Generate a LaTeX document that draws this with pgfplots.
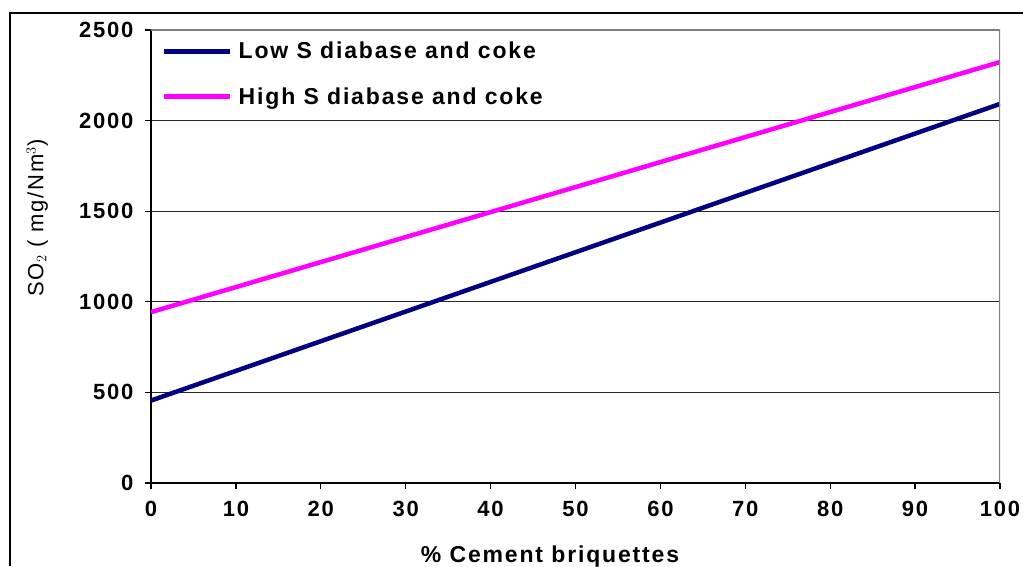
\documentclass[border=0pt]{standalone}
\usepackage{fontspec}
\setmainfont{Liberation Sans}
\newfontfamily\lab{Liberation Sans}[LetterSpace=8]
\usepackage{pgfplots}
\pgfplotsset{compat=1.18}
\definecolor{lowS}{RGB}{0,0,128}
\definecolor{highS}{RGB}{255,0,255}

\begin{document}
\begin{tikzpicture}
\useasboundingbox (0pt,0pt) rectangle (1023pt,566pt);
% outer chart frame (only top and left edges visible)
\draw[line width=2.5pt] (10pt,0pt) -- (10pt,553pt) -- (1023pt,553pt);
\begin{axis}[
    at={(151pt,83pt)}, anchor=south west,
    scale only axis,
    width=849pt, height=453pt,
    xmin=0, xmax=100,
    ymin=0, ymax=2500,
    xtick={0,10,...,100},
    ytick={0,500,...,2500},
    axis x line*=bottom, axis y line*=left,
    axis line style={black, line width=1.3pt, -},
    tick align=outside,
    major tick length=6pt,
    tick style={black, line width=1.3pt},
    ymajorgrids,
    grid style={black!85, line width=1.3pt},
    /pgf/number format/assume math mode=true,
    /pgf/number format/1000 sep={},
    ticklabel style={font=\lab\bfseries\fontsize{22}{26}\selectfont},
    yticklabel style={anchor=east, xshift=-8pt},
    xticklabel style={anchor=north, yshift=-9pt},
    xlabel={\% Cement briquettes},
    xlabel style={font=\lab\bfseries\fontsize{23}{27}\selectfont,
        at={(axis description cs:0.47,-0.1744)}, anchor=base},
    ylabel={SO$_2$ ( mg/Nm$^3$)},
    ylabel style={font=\lab\fontsize{22}{26}\selectfont,
        at={(axis description cs:-0.134,0.585)}, anchor=center},
    legend style={draw=none, fill=none, at={(rel axis cs:0,1)},
        anchor=north west, xshift=11pt, yshift=-10pt,
        font=\lab\bfseries\fontsize{23}{27}\selectfont,
        row sep=23pt, column sep=4pt, inner sep=0pt},
    legend cell align=left,
    legend image code/.code={\draw[#1] (0pt,0pt) -- (66pt,0pt);},
]
\addplot[lowS, line width=4.5pt] coordinates {(0,455) (100,2092)};
\addplot[highS, line width=4.5pt] coordinates {(0,943) (100,2323)};
\legend{Low S diabase and coke, High S diabase and coke}
% grey top and right edges of the plot area
\draw[gray, line width=1.3pt] (rel axis cs:0,1) -- (rel axis cs:1,1) -- (rel axis cs:1,0);
\end{axis}
\end{tikzpicture}
\end{document}
